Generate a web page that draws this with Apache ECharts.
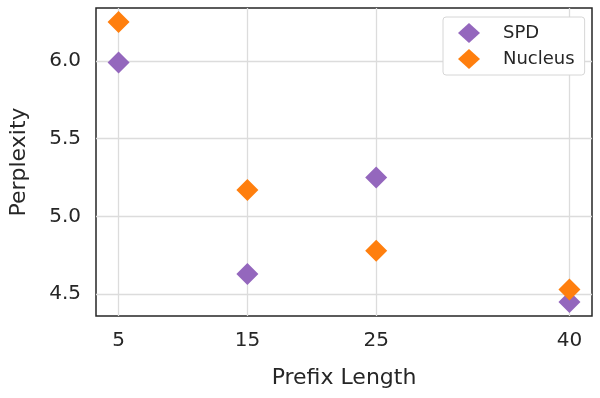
<!DOCTYPE html>
<html>
<head>
<meta charset="utf-8">
<script src="https://cdn.jsdelivr.net/npm/echarts@6/dist/echarts.min.js"></script>
<style>
  html, body { margin: 0; padding: 0; background: #fff; }
  #main { width: 600px; height: 398px; }
</style>
</head>
<body>
<div id="main"></div>
<script>
// data
var prefixLengths = [5, 15, 25, 40];
var spdPerplexity = [5.99, 4.63, 5.25, 4.45];
var nucleusPerplexity = [6.25, 5.17, 4.78, 4.53];
var xTicks = [5, 15, 25, 40];
var yTicks = [4.5, 5.0, 5.5, 6.0];

function pairs(xs, ys) {
  return xs.map(function (x, i) { return [x, ys[i]]; });
}

var myChart = echarts.init(document.getElementById('main'));
var font = 'DejaVu Sans';
var textColor = '#262626';

var option = {
  animation: false,
  textStyle: { fontFamily: font },
  grid: {
    left: 95, right: 8, top: 8, bottom: 82,
    show: true,
    borderColor: '#262626',
    borderWidth: 1.5
  },
  legend: {
    data: ['SPD', 'Nucleus'],
    orient: 'vertical',
    left: 443,
    top: 17,
    padding: [6, 10, 6, 15],
    itemGap: 6,
    itemWidth: 22,
    itemHeight: 20,
    icon: 'diamond',
    backgroundColor: '#fff',
    borderColor: '#d6d6d6',
    borderWidth: 1,
    borderRadius: 3,
    textStyle: {
      fontFamily: font,
      fontSize: 18,
      color: textColor,
      padding: [0, 0, 0, 18]
    }
  },
  xAxis: {
    type: 'value',
    min: 3.25,
    max: 41.75,
    name: 'Prefix Length',
    nameLocation: 'middle',
    nameGap: 51,
    nameTextStyle: { fontFamily: font, fontSize: 22, color: textColor },
    axisLine: { show: false },
    axisTick: { show: false, customValues: xTicks },
    axisLabel: {
      customValues: xTicks,
      margin: 15,
      fontFamily: font,
      fontSize: 20,
      color: textColor
    },
    splitLine: { show: true, lineStyle: { color: '#dcdcdc', width: 1.3 } }
  },
  yAxis: {
    type: 'value',
    min: 4.36,
    max: 6.34,
    name: 'Perplexity',
    nameLocation: 'middle',
    nameGap: 66,
    nameTextStyle: { fontFamily: font, fontSize: 22, color: textColor },
    axisLine: { show: false },
    axisTick: { show: false, customValues: yTicks },
    axisLabel: {
      customValues: yTicks,
      margin: 15,
      fontFamily: font,
      fontSize: 20,
      color: textColor,
      formatter: function (v) { return v.toFixed(1); }
    },
    splitLine: { show: true, lineStyle: { color: '#dcdcdc', width: 1.3 } }
  },
  series: [
    {
      name: 'SPD',
      type: 'scatter',
      symbol: 'diamond',
      symbolSize: [22, 22],
      itemStyle: { color: '#9467bd', opacity: 1 },
      data: pairs(prefixLengths, spdPerplexity)
    },
    {
      name: 'Nucleus',
      type: 'scatter',
      symbol: 'diamond',
      symbolSize: [22, 22],
      itemStyle: { color: '#ff7f0e', opacity: 1 },
      data: pairs(prefixLengths, nucleusPerplexity)
    }
  ]
};

myChart.setOption(option);
window.onresize = function () {
  myChart.resize();
};
</script>
</body>
</html>
